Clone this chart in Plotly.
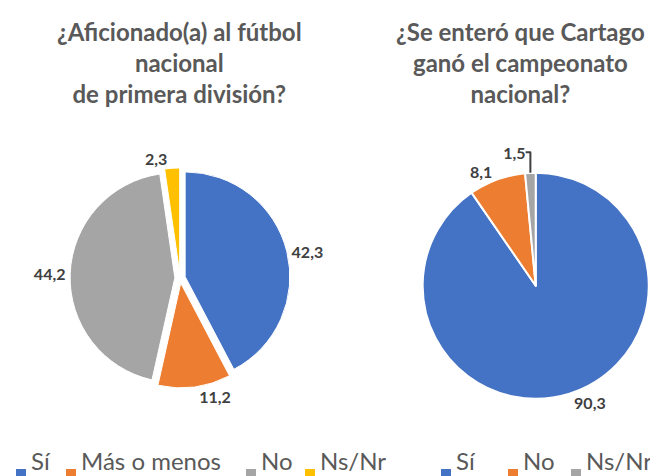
import plotly.graph_objects as go

# ¿Aficionado(a) al fútbol nacional de primera división?
labels_a = ["Sí", "Más o menos", "No", "Ns/Nr"]
values_a = [42.3, 11.2, 44.2, 2.3]
colors_a = ["#4472C4", "#ED7D31", "#A5A5A5", "#FFC000"]

# ¿Se enteró que Cartago ganó el campeonato nacional?
labels_b = ["Sí", "No", "Ns/Nr"]
values_b = [90.3, 8.1, 1.5]
colors_b = ["#4472C4", "#ED7D31", "#A5A5A5"]

title_a = "¿Aficionado(a) al fútbol<br>nacional<br>de primera división?"
title_b = "¿Se enteró que Cartago<br>ganó el campeonato<br>nacional?"

W, H = 658, 476
gray = "#595959"
fnt = "Lato"

fig = go.Figure()

fig.add_trace(go.Pie(
    labels=labels_a, values=values_a, sort=False, direction="clockwise",
    marker=dict(colors=colors_a, line=dict(color="white", width=1)),
    pull=[0.05] * len(values_a),
    textposition="outside", texttemplate="%{value:.1f}",
    textfont=dict(family=fnt, size=16, color="#404040", weight="bold"),
    domain=dict(x=[0.094, 0.429], y=[0.202, 0.664]),
    showlegend=False, hoverinfo="label+value",
))

fig.add_trace(go.Pie(
    labels=labels_b, values=values_b, sort=False, direction="clockwise",
    marker=dict(colors=colors_b, line=dict(color="white", width=2)),
    textposition="outside", texttemplate="%{value:.1f}",
    textfont=dict(family=fnt, size=16, color="#404040", weight="bold"),
    domain=dict(x=[0.630, 0.974], y=[0.179, 0.654]),
    showlegend=False, hoverinfo="label+value",
))

tfont = dict(family=fnt, size=24, color=gray, weight="bold")
fig.add_annotation(text=title_a, x=171 / W, y=0.985, xref="paper", yref="paper",
                   xanchor="center", yanchor="top", showarrow=False, font=tfont)
fig.add_annotation(text=title_b, x=512 / W, y=0.985, xref="paper", yref="paper",
                   xanchor="center", yanchor="top", showarrow=False, font=tfont)

# hand-built legends (one per pie), swatch left edges in px
swatch_a = [8, 58, 238, 297]
swatch_b = [433, 500, 563]
lfont = dict(family=fnt, size=24, color=gray)
for labs, cols, xs in [(labels_a, colors_a, swatch_a), (labels_b, colors_b, swatch_b)]:
    for lab, col, x0 in zip(labs, cols, xs):
        fig.add_shape(type="rect", xref="paper", yref="paper",
                      x0=x0 / W, x1=(x0 + 10) / W, y0=(H - 471) / H, y1=(H - 461) / H,
                      fillcolor=col, line=dict(width=0))
        fig.add_annotation(text=lab, x=(x0 + 14) / W, y=(H - 452) / H,
                           xref="paper", yref="paper", xanchor="left", yanchor="middle",
                           showarrow=False, font=lfont, borderpad=0)

fig.update_layout(
    width=W, height=H,
    margin=dict(l=0, r=0, t=0, b=0),
    paper_bgcolor="white",
    separators=",.",
    showlegend=False,
)

fig.write_html("out.html")
